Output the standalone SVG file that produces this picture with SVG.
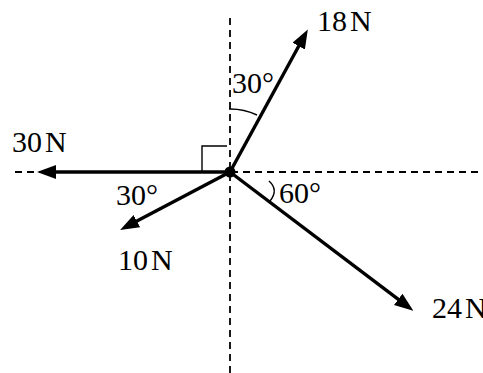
<svg xmlns="http://www.w3.org/2000/svg" width="483" height="373" viewBox="0 0 483 373">
<defs>
<style>
.axis{stroke:#000;stroke-width:1.8;stroke-dasharray:7,5;fill:none}
.force{stroke:#000;stroke-width:3.4;fill:none}
.thin{stroke:#000;stroke-width:1.4;fill:none}
text{font-family:"Liberation Serif","Times New Roman",serif;font-size:30px;fill:#000}
.lbl{word-spacing:-4.5px}
</style>
<marker id="ah" markerUnits="userSpaceOnUse" markerWidth="22" markerHeight="16" refX="1" refY="7" orient="auto">
<path d="M0,0 L19,7 L0,14 z" fill="#000"/>
</marker>
</defs>
<rect width="483" height="373" fill="#fff"/>
<g id="axes">
<line class="axis" x1="230" y1="18" x2="230" y2="373"/>
<line class="axis" x1="15" y1="172" x2="483" y2="172"/>
</g>
<g id="connectors">
<line class="force" x1="230" y1="172" x2="299.2" y2="45.2" marker-end="url(#ah)"/>
<line class="force" x1="230" y1="172" x2="55" y2="172" marker-end="url(#ah)"/>
<line class="force" x1="230" y1="172" x2="136" y2="221.6" marker-end="url(#ah)"/>
<line class="force" x1="230" y1="172" x2="399" y2="299.9" marker-end="url(#ah)"/>
</g>
<g id="marks">
<path class="thin" d="M202,171 L202,146 L227,146"/>
<path class="thin" d="M229,109 A63,63 0 0 1 257,115"/>
<path class="thin" d="M269,181 Q279,190 270,201"/>
</g>
<g id="center"><circle cx="230" cy="172" r="5.5" fill="#000"/></g>
<g id="n18"><text class="lbl" x="317" y="31">18 N</text></g>
<g id="n30"><text class="lbl" x="12" y="152">30 N</text></g>
<g id="n10"><text class="lbl" x="118" y="270">10 N</text></g>
<g id="n24"><text class="lbl" x="432" y="318">24 N</text></g>
<g id="a30top"><text x="232" y="93">30°</text></g>
<g id="a30left"><text x="116" y="205">30°</text></g>
<g id="a60"><text x="279" y="203">60°</text></g>
</svg>
